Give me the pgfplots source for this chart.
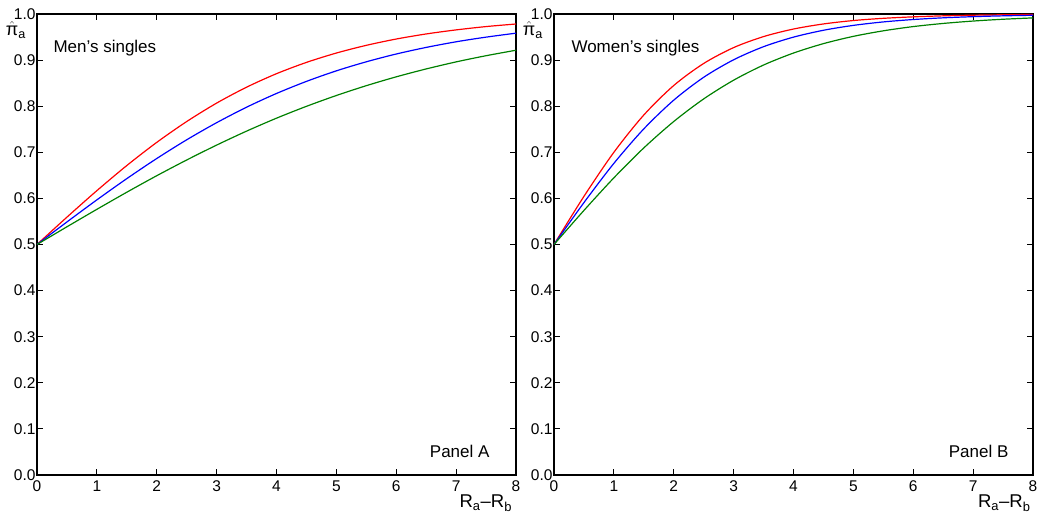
\documentclass[border=0pt]{standalone}
\usepackage{fontspec}
\setmainfont{Liberation Sans}
\usepackage{amsmath}
\usepackage{pgfplots}
\pgfplotsset{compat=1.18}

% men's singles: x, red, blue, green
\pgfplotstableread{
x    red    blue   green
0.0  0.5000 0.5000 0.5000
0.5  0.5593 0.5489 0.5384
1.0  0.6168 0.5968 0.5763
1.5  0.6713 0.6429 0.6134
2.0  0.7215 0.6865 0.6492
2.5  0.7667 0.7271 0.6833
3.0  0.8067 0.7642 0.7156
3.5  0.8412 0.7978 0.7459
4.0  0.8705 0.8276 0.7740
4.5  0.8950 0.8538 0.7997
5.0  0.9153 0.8767 0.8232
5.5  0.9320 0.8963 0.8445
6.0  0.9457 0.9132 0.8637
6.5  0.9567 0.9275 0.8808
7.0  0.9655 0.9397 0.8961
7.5  0.9727 0.9498 0.9095
8.0  0.9783 0.9584 0.9214
}\mentab

% women's singles
\pgfplotstableread{
x    red    blue   green
0.0  0.5000 0.5000 0.5000
0.5  0.6044 0.5909 0.5739
1.0  0.7000 0.6760 0.6446
1.5  0.7809 0.7508 0.7095
2.0  0.8449 0.8131 0.7668
2.5  0.8927 0.8627 0.8158
3.0  0.9271 0.9007 0.8564
3.5  0.9510 0.9291 0.8893
4.0  0.9674 0.9498 0.9153
4.5  0.9784 0.9647 0.9357
5.0  0.9858 0.9753 0.9515
5.5  0.9906 0.9828 0.9635
6.0  0.9938 0.9880 0.9727
6.5  0.9960 0.9917 0.9795
7.0  0.9974 0.9942 0.9847
7.5  0.9983 0.9960 0.9886
8.0  0.9989 0.9972 0.9915
}\womentab

\definecolor{cred}{RGB}{255,0,0}
\definecolor{cblue}{RGB}{0,0,255}
\definecolor{cgreen}{RGB}{0,128,0}

\pgfplotsset{panel/.style={
  scale only axis, width=479pt, height=461pt,
  xmin=0, xmax=8, ymin=0, ymax=1,
  clip=false,
  xtick={0,1,2,3,4,5,6,7,8},
  ytick={0,0.1,0.2,0.3,0.4,0.5,0.6,0.7,0.8,0.9,1},
  tick align=inside, major tick length=6pt,
  axis line style={line width=1.7pt},
  every tick/.style={black, line width=0.9pt},
  /pgf/number format/assume math mode=true,
  yticklabel style={/pgf/number format/.cd, fixed, fixed zerofill, precision=1, /tikz/.cd, xshift=2pt},
  xticklabel style={yshift=-2pt},
  tick label style={font=\fontsize{15.5}{18}\selectfont},
  every axis plot/.append style={line width=1.2pt, smooth, no markers},
}}

\begin{document}
\begin{tikzpicture}
\begin{axis}[panel, name=left]
  \addplot[cred]   table[x=x, y=red]   {\mentab};
  \addplot[cblue]  table[x=x, y=blue]  {\mentab};
  \addplot[cgreen] table[x=x, y=green] {\mentab};
  \node[anchor=base west, font=\fontsize{17}{20}\selectfont] at (rel axis cs:0,1) [xshift=13pt, yshift=-39pt] {Men’s singles};
  \node[anchor=base east, font=\fontsize{17}{20}\selectfont] at (rel axis cs:0.952,0) [yshift=17pt] {Panel A};
  \node[anchor=east, font=\fontsize{18}{21}\selectfont, inner sep=0pt] at (rel axis cs:0,0.965) [xshift=-11pt] {$\hat{\text{π}}_{\text{a}}$};
  \node[anchor=north, font=\fontsize{18.5}{22}\selectfont, inner sep=0pt] at (rel axis cs:0.937,0) [yshift=-20pt] {$\text{R}_{\text{a}}$–$\text{R}_{\text{b}}$};
\end{axis}
\begin{axis}[panel, at={(517pt,0)}]
  \addplot[cred]   table[x=x, y=red]   {\womentab};
  \addplot[cblue]  table[x=x, y=blue]  {\womentab};
  \addplot[cgreen] table[x=x, y=green] {\womentab};
  \node[anchor=base west, font=\fontsize{17}{20}\selectfont] at (rel axis cs:0,1) [xshift=14pt, yshift=-39pt] {Women’s singles};
  \node[anchor=base east, font=\fontsize{17}{20}\selectfont] at (rel axis cs:0.956,0) [yshift=17pt] {Panel B};
  \node[anchor=east, font=\fontsize{18}{21}\selectfont, inner sep=0pt] at (rel axis cs:0,0.965) [xshift=-11pt] {$\hat{\text{π}}_{\text{a}}$};
  \node[anchor=north, font=\fontsize{18.5}{22}\selectfont, inner sep=0pt] at (rel axis cs:0.94,0) [yshift=-20pt] {$\text{R}_{\text{a}}$–$\text{R}_{\text{b}}$};
\end{axis}
\pgfresetboundingbox
\path[use as bounding box] ([shift={(-37pt,-46pt)}]left.south west) rectangle ([shift={(1004pt,14pt)}]left.north west);
\end{tikzpicture}
\end{document}
